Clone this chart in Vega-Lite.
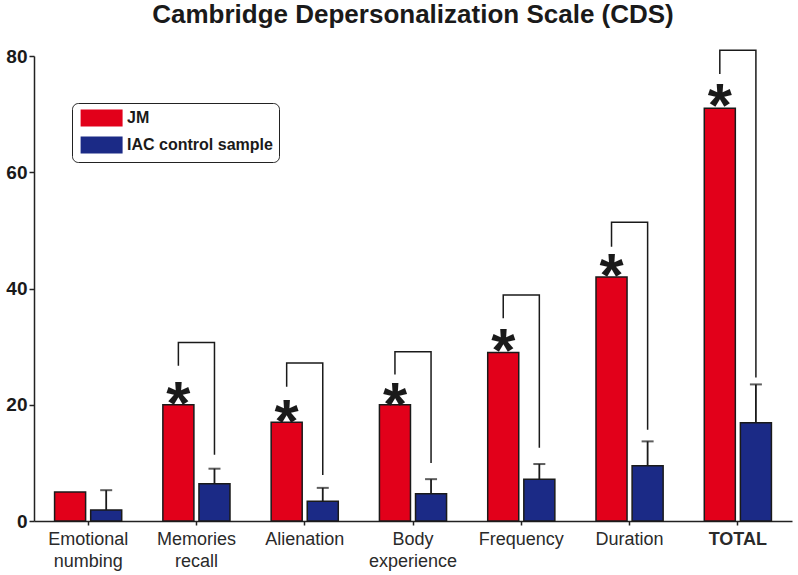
{
  "$schema": "https://vega.github.io/schema/vega-lite/v6.json",
  "width": 758,
  "height": 465,
  "autosize": {"type": "none"},
  "padding": {"left": 34, "top": 56, "right": 6, "bottom": 54},
  "config": {"font": "Liberation Sans", "view": {"stroke": null}},
  "title": {
    "text": "Cambridge Depersonalization Scale (CDS)",
    "fontSize": 26,
    "fontWeight": "bold",
    "color": "#1a1a1a",
    "anchor": "middle",
    "baseline": "alphabetic",
    "offset": 22,
    "dy": 24
  },
  "datasets": {
    "bars": [
      {"cat": "Emotional numbing", "group": "JM", "value": 5},
      {"cat": "Emotional numbing", "group": "IAC control sample", "value": 1.9, "upper": 5.3},
      {"cat": "Memories recall", "group": "JM", "value": 20},
      {"cat": "Memories recall", "group": "IAC control sample", "value": 6.4, "upper": 9.0},
      {"cat": "Alienation", "group": "JM", "value": 17},
      {"cat": "Alienation", "group": "IAC control sample", "value": 3.4, "upper": 5.7},
      {"cat": "Body experience", "group": "JM", "value": 20},
      {"cat": "Body experience", "group": "IAC control sample", "value": 4.7, "upper": 7.2},
      {"cat": "Frequency", "group": "JM", "value": 29},
      {"cat": "Frequency", "group": "IAC control sample", "value": 7.2, "upper": 9.8},
      {"cat": "Duration", "group": "JM", "value": 42},
      {"cat": "Duration", "group": "IAC control sample", "value": 9.5, "upper": 13.7},
      {"cat": "TOTAL", "group": "JM", "value": 71},
      {"cat": "TOTAL", "group": "IAC control sample", "value": 16.9, "upper": 23.5}
    ],
    "brackets": [
      {"cat": "Memories recall", "group": "JM", "y": 26.7, "ord": 1},
      {"cat": "Memories recall", "group": "JM", "y": 30.7, "ord": 2},
      {"cat": "Memories recall", "group": "IAC control sample", "y": 30.7, "ord": 3},
      {"cat": "Memories recall", "group": "IAC control sample", "y": 11.4, "ord": 4},
      {"cat": "Alienation", "group": "JM", "y": 23.1, "ord": 1},
      {"cat": "Alienation", "group": "JM", "y": 27.2, "ord": 2},
      {"cat": "Alienation", "group": "IAC control sample", "y": 27.2, "ord": 3},
      {"cat": "Alienation", "group": "IAC control sample", "y": 7.9, "ord": 4},
      {"cat": "Body experience", "group": "JM", "y": 25.2, "ord": 1},
      {"cat": "Body experience", "group": "JM", "y": 29.1, "ord": 2},
      {"cat": "Body experience", "group": "IAC control sample", "y": 29.1, "ord": 3},
      {"cat": "Body experience", "group": "IAC control sample", "y": 10.0, "ord": 4},
      {"cat": "Frequency", "group": "JM", "y": 34.9, "ord": 1},
      {"cat": "Frequency", "group": "JM", "y": 38.9, "ord": 2},
      {"cat": "Frequency", "group": "IAC control sample", "y": 38.9, "ord": 3},
      {"cat": "Frequency", "group": "IAC control sample", "y": 12.6, "ord": 4},
      {"cat": "Duration", "group": "JM", "y": 47.2, "ord": 1},
      {"cat": "Duration", "group": "JM", "y": 51.4, "ord": 2},
      {"cat": "Duration", "group": "IAC control sample", "y": 51.4, "ord": 3},
      {"cat": "Duration", "group": "IAC control sample", "y": 15.7, "ord": 4},
      {"cat": "TOTAL", "group": "JM", "y": 76.9, "ord": 1},
      {"cat": "TOTAL", "group": "JM", "y": 81.0, "ord": 2},
      {"cat": "TOTAL", "group": "IAC control sample", "y": 81.0, "ord": 3},
      {"cat": "TOTAL", "group": "IAC control sample", "y": 24.7, "ord": 4}
    ],
    "stars": [
      {"cat": "Memories recall", "group": "JM", "y": 22.6},
      {"cat": "Alienation", "group": "JM", "y": 19.5},
      {"cat": "Body experience", "group": "JM", "y": 22.4},
      {"cat": "Frequency", "group": "JM", "y": 31.7},
      {"cat": "Duration", "group": "JM", "y": 44.5},
      {"cat": "TOTAL", "group": "JM", "y": 73.8}
    ]
  },
  "encoding": {
    "x": {
      "field": "cat",
      "type": "nominal",
      "scale": {
        "domain": ["Emotional numbing", "Memories recall", "Alienation", "Body experience", "Frequency", "Duration", "TOTAL"],
        "paddingInner": 0.38,
        "paddingOuter": 0.19
      },
      "axis": {
        "title": null,
        "labelAngle": 0,
        "labelExpr": "split(datum.label, ' ')",
        "labelFontSize": 18,
        "labelColor": "#2a2a2a",
        "labelLineHeight": 22,
        "labelPadding": 5,
        "labelFontWeight": {"condition": {"test": "datum.value == 'TOTAL'", "value": "bold"}, "value": "normal"},
        "tickSize": 4,
        "tickColor": "#222",
        "tickWidth": 1.5,
        "domainColor": "#222",
        "domainWidth": 1.5
      }
    }
  },
  "layer": [
    {
      "data": {"name": "bars"},
      "mark": {"type": "bar", "stroke": "#1a1a1a", "strokeWidth": 1.5},
      "encoding": {
        "xOffset": {"field": "group", "type": "nominal", "scale": {"domain": ["JM", "IAC control sample"], "paddingInner": 0.14, "paddingOuter": 0}},
        "y": {
          "field": "value",
          "type": "quantitative",
          "scale": {"domain": [0, 80], "nice": false},
          "axis": {
            "title": null,
            "values": [0, 20, 40, 60, 80],
            "grid": false,
            "labelFontSize": 19,
            "labelFontWeight": "bold",
            "labelColor": "#1a1a1a",
            "labelPadding": 2,
            "tickSize": 5,
            "tickColor": "#222",
            "tickWidth": 1.5,
            "domainColor": "#222",
            "domainWidth": 1.5
          }
        },
        "color": {
          "field": "group",
          "type": "nominal",
          "scale": {"domain": ["JM", "IAC control sample"], "range": ["#e2001a", "#1b2a86"]},
          "legend": {
            "title": null,
            "orient": "none",
            "legendX": 38,
            "legendY": 47,
            "direction": "vertical",
            "symbolType": "M-2.5,-1H2.5V1H-2.5Z",
            "symbolSize": 282,
            "symbolOffset": 14.6,
            "symbolStrokeColor": "#222",
            "symbolStrokeWidth": 1,
            "symbolOpacity": 1,
            "labelFontSize": 16,
            "labelFontWeight": "bold",
            "labelColor": "#1a1a1a",
            "labelOffset": 16.5,
            "rowPadding": 5,
            "padding": 6,
            "strokeColor": "#222",
            "cornerRadius": 6,
            "fillColor": "white",
            "encode": {"symbols": {"update": {"fill": [{"test": "datum.value === 'JM'", "value": "#e2001a"}, {"value": "#3b3a84"}]}}}
          }
        }
      }
    },
    {
      "data": {"name": "bars"},
      "transform": [{"filter": "isValid(datum.upper)"}],
      "mark": {"type": "rule", "color": "#1a1a1a", "strokeWidth": 1.8},
      "encoding": {
        "xOffset": {"field": "group", "type": "nominal"},
        "y": {"field": "value", "type": "quantitative"},
        "y2": {"field": "upper"}
      }
    },
    {
      "data": {"name": "bars"},
      "transform": [{"filter": "isValid(datum.upper)"}],
      "mark": {"type": "tick", "color": "#1a1a1a", "size": 12, "thickness": 2},
      "encoding": {
        "xOffset": {"field": "group", "type": "nominal"},
        "y": {"field": "upper", "type": "quantitative"}
      }
    },
    {
      "data": {"name": "brackets"},
      "mark": {"type": "line", "color": "#1a1a1a", "strokeWidth": 1.5},
      "encoding": {
        "xOffset": {"field": "group", "type": "nominal"},
        "y": {"field": "y", "type": "quantitative"},
        "detail": {"field": "cat"},
        "order": {"field": "ord"}
      }
    },
    {
      "data": {"name": "stars"},
      "mark": {"type": "text", "text": "*", "fontSize": 62, "fontWeight": "bold", "color": "#1a1a1a", "baseline": "alphabetic", "dy": 34},
      "encoding": {
        "xOffset": {"field": "group", "type": "nominal"},
        "y": {"field": "y", "type": "quantitative"}
      }
    }
  ]
}
